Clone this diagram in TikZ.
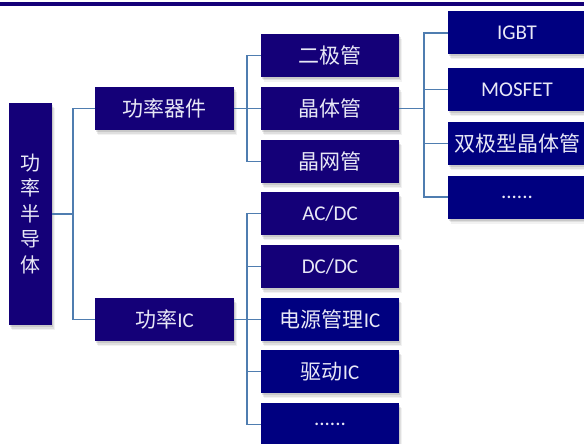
\documentclass[tikz,border=0pt]{standalone}
\usepackage{fontspec}
\setmainfont{Carlito}
\newfontfamily\cjk{Noto Sans CJK SC}
\usetikzlibrary{shadows}
\newcommand{\zh}[1]{{\cjk #1}}
\definecolor{indig}{RGB}{20,0,120}
\definecolor{navyb}{RGB}{0,0,128}
\definecolor{connc}{RGB}{79,125,176}
\definecolor{txtc}{RGB}{232,232,246}
\tikzset{
  soft/.style={
    general shadow={shadow xshift=1pt, shadow yshift=-2pt, fill=black, opacity=0.10},
    general shadow={shadow xshift=2pt, shadow yshift=-3.5pt, fill=black, opacity=0.08},
    general shadow={shadow xshift=3pt, shadow yshift=-5pt, fill=black, opacity=0.05}},
  boxa/.style={soft, fill=indig, text=txtc, inner sep=0pt, minimum width=139pt, minimum height=43pt, font=\fontsize{21}{24}\selectfont},
  boxb/.style={boxa, fill=navyb},
  conn/.style={draw=connc, line width=1.6pt}
}
\begin{document}
\begin{tikzpicture}[x=1pt,y=-1pt]
\useasboundingbox (0,0) rectangle (584,444);
\fill[white] (0,0) rectangle (584,444);
\fill[indig] (0,2.5) rectangle (584,6);
% root
\node[boxa, minimum width=43pt, minimum height=222pt, align=center, font=\fontsize{20}{25.5}\selectfont\cjk] (root) at (30.5,214) {功\\率\\半\\导\\体};
% level 1
\node[boxa] (a1) at (164.5,108.5) {\zh{功率器件}};
\node[boxa] (a2) at (164.5,319.5) {\zh{功率}IC};
% level 2
\node[boxa, minimum width=138pt] (b1) at (330,55.5) {\zh{二极管}};
\node[boxa, minimum width=138pt] (b2) at (330,108.5) {\zh{晶体管}};
\node[boxa, minimum width=138pt] (b3) at (330,161.5) {\zh{晶网管}};
\node[boxa, minimum width=138pt] (c1) at (330,213.5) {AC/DC};
\node[boxa, minimum width=138pt] (c2) at (330,266.5) {DC/DC};
\node[boxb, minimum width=138pt] (c3) at (330,319.5) {\zh{电源管理}IC};
\node[boxb, minimum width=138pt] (c4) at (330,371.5) {\zh{驱动}IC};
\node[boxb, minimum width=138pt] (c5) at (330,424.5) {......};
% level 3
\node[boxb, minimum width=138pt] (d1) at (517,33) {IGBT};
\node[boxb, minimum width=138pt] (d2) at (517,89.5) {MOSFET};
\node[boxb, minimum width=138pt] (d3) at (517,143.5) {\zh{双极型晶体管}};
\node[boxb, minimum width=138pt] (d4) at (517,197) {......};
% junctions
\coordinate (j0) at (73,214);
\coordinate (j1) at (247,108.5);
\coordinate (j2) at (247,319.5);
\coordinate (j3) at (424,108.5);
% connectors
\draw[conn] (root.east) -- (j0);
\draw[conn] (a1.west) -| (j0) |- (a2.west);
\draw[conn] (a1.east) -- (j1);
\draw[conn] (b1.west) -| (j1) |- (b3.west);
\draw[conn] (j1) -- (b2.west);
\draw[conn] (a2.east) -- (j2);
\draw[conn] (c1.west) -| (j2) |- (c5.west);
\draw[conn] (j2 |- c2.west) -- (c2.west);
\draw[conn] (j2) -- (c3.west);
\draw[conn] (j2 |- c4.west) -- (c4.west);
\draw[conn] (b2.east) -- (j3);
\draw[conn] (d1.west) -| (j3) |- (d4.west);
\draw[conn] (j3 |- d2.west) -- (d2.west);
\draw[conn] (j3 |- d3.west) -- (d3.west);
\end{tikzpicture}
\end{document}
